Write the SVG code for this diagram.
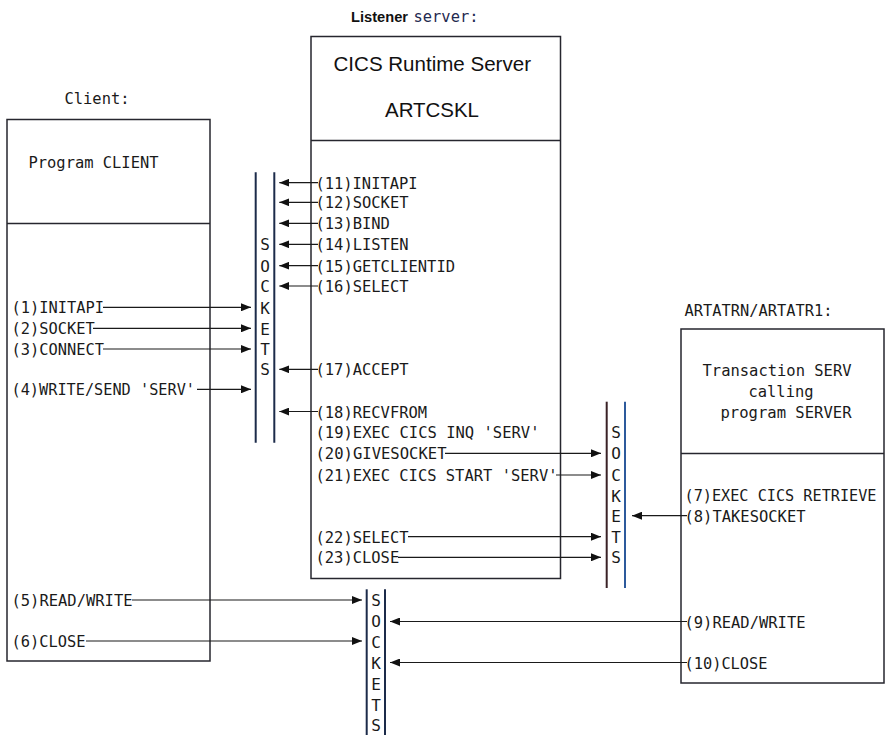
<svg xmlns="http://www.w3.org/2000/svg" width="886" height="735" viewBox="0 0 886 735">
<style>
.box{fill:#fff;stroke:#26262e;stroke-width:1.5}
.div{stroke:#26262e;stroke-width:1.5}
.m{font-family:"DejaVu Sans Mono","Liberation Mono",monospace;font-size:16px;fill:#1a1a1a}
.l{font-family:"DejaVu Sans Mono","Liberation Mono",monospace;font-size:16px;fill:#1a1a1a;text-anchor:middle}
.sock{stroke:#1c2b4a;stroke-width:2}
.c{stroke:#1a1a1a;stroke-width:1.2;fill:none;marker-end:url(#ah)}
.s{font-family:"Liberation Sans",Arial,sans-serif;font-size:21px;fill:#111}
</style>
<defs>
<marker id="ah" markerWidth="10" markerHeight="8" refX="10" refY="4" orient="auto" markerUnits="userSpaceOnUse"><path d="M0,0 L10,4 L0,8 z" fill="#111"/></marker>
</defs>
<rect width="886" height="735" fill="#fff"/>

<g id="title-listener">
<text x="351" y="22.3" font-family="'Liberation Sans',Arial,sans-serif" font-size="14.5" font-weight="bold" fill="#111" textLength="57" lengthAdjust="spacingAndGlyphs">Listener</text>
<text x="413.5" y="22.3" class="m" style="fill:#1f2a50" textLength="65" lengthAdjust="spacingAndGlyphs">server:</text>
</g>

<g id="client">
<text x="64.5" y="104.3" class="m" textLength="65" lengthAdjust="spacingAndGlyphs">Client:</text>
<rect class="box" x="7" y="119.5" width="203" height="541.5"/>
<line class="div" x1="7" y1="223.5" x2="210" y2="223.5"/>
<text x="28.5" y="167.5" class="m" textLength="130" lengthAdjust="spacingAndGlyphs">Program CLIENT</text>
<text x="11.5" y="313.3" class="m" textLength="92.5" lengthAdjust="spacingAndGlyphs">(1)INITAPI</text>
<text x="11.5" y="334.3" class="m" textLength="83.2" lengthAdjust="spacingAndGlyphs">(2)SOCKET</text>
<text x="11.5" y="355" class="m" textLength="92.5" lengthAdjust="spacingAndGlyphs">(3)CONNECT</text>
<text x="11.5" y="395.3" class="m" textLength="183.5" lengthAdjust="spacingAndGlyphs">(4)WRITE/SEND 'SERV'</text>
<text x="11.5" y="606" class="m" textLength="121" lengthAdjust="spacingAndGlyphs">(5)READ/WRITE</text>
<text x="11.5" y="647" class="m" textLength="74" lengthAdjust="spacingAndGlyphs">(6)CLOSE</text>
</g>

<g id="listener">
<rect class="box" x="311" y="36.5" width="249.5" height="542"/>
<line class="div" x1="311" y1="140.5" x2="560.5" y2="140.5"/>
<text x="333.5" y="71" class="s" textLength="197.5" lengthAdjust="spacingAndGlyphs">CICS Runtime Server</text>
<text x="385" y="117" class="s" textLength="94" lengthAdjust="spacingAndGlyphs">ARTCSKL</text>
<text x="315.5" y="188.7" class="m" textLength="102" lengthAdjust="spacingAndGlyphs">(11)INITAPI</text>
<text x="315.5" y="208.3" class="m" textLength="93" lengthAdjust="spacingAndGlyphs">(12)SOCKET</text>
<text x="315.5" y="229.3" class="m" textLength="74.4" lengthAdjust="spacingAndGlyphs">(13)BIND</text>
<text x="315.5" y="250.3" class="m" textLength="93" lengthAdjust="spacingAndGlyphs">(14)LISTEN</text>
<text x="315.5" y="271.7" class="m" textLength="139.5" lengthAdjust="spacingAndGlyphs">(15)GETCLIENTID</text>
<text x="315.5" y="292" class="m" textLength="93" lengthAdjust="spacingAndGlyphs">(16)SELECT</text>
<text x="315.5" y="375.3" class="m" textLength="93" lengthAdjust="spacingAndGlyphs">(17)ACCEPT</text>
<text x="315.5" y="417.5" class="m" textLength="111.6" lengthAdjust="spacingAndGlyphs">(18)RECVFROM</text>
<text x="315.5" y="438.3" class="m" textLength="224" lengthAdjust="spacingAndGlyphs">(19)EXEC CICS INQ 'SERV'</text>
<text x="315.5" y="459.3" class="m" textLength="131" lengthAdjust="spacingAndGlyphs">(20)GIVESOCKET</text>
<text x="315.5" y="481" class="m" textLength="242" lengthAdjust="spacingAndGlyphs">(21)EXEC CICS START 'SERV'</text>
<text x="315.5" y="542.7" class="m" textLength="93" lengthAdjust="spacingAndGlyphs">(22)SELECT</text>
<text x="315.5" y="563.3" class="m" textLength="83.7" lengthAdjust="spacingAndGlyphs">(23)CLOSE</text>
</g>

<g id="server">
<text x="684.5" y="316" class="m" textLength="148" lengthAdjust="spacingAndGlyphs">ARTATRN/ARTATR1:</text>
<rect class="box" x="681" y="329" width="203" height="354"/>
<line class="div" x1="681" y1="453.5" x2="884" y2="453.5"/>
<text x="702.5" y="376" class="m" textLength="149" lengthAdjust="spacingAndGlyphs">Transaction SERV</text>
<text x="748.5" y="396.7" class="m" textLength="65" lengthAdjust="spacingAndGlyphs">calling</text>
<text x="720.5" y="417.7" class="m" textLength="131" lengthAdjust="spacingAndGlyphs">program SERVER</text>
<text x="684.5" y="501" class="m" textLength="192" lengthAdjust="spacingAndGlyphs">(7)EXEC CICS RETRIEVE</text>
<text x="684.5" y="521.7" class="m" textLength="121" lengthAdjust="spacingAndGlyphs">(8)TAKESOCKET</text>
<text x="684.5" y="627.5" class="m" textLength="121" lengthAdjust="spacingAndGlyphs">(9)READ/WRITE</text>
<text x="684.5" y="668.5" class="m" textLength="83" lengthAdjust="spacingAndGlyphs">(10)CLOSE</text>
</g>

<g id="sockets-listener">
<line class="sock" x1="255.7" y1="172.3" x2="255.7" y2="442.7"/>
<line class="sock" x1="274.3" y1="172.3" x2="274.3" y2="442.7"/>
<text class="l" x="265" y="250.3">S</text>
<text class="l" x="265" y="271.7">O</text>
<text class="l" x="265" y="292">C</text>
<text class="l" x="265" y="314">K</text>
<text class="l" x="265" y="335">E</text>
<text class="l" x="265" y="355">T</text>
<text class="l" x="265" y="375">S</text>
</g>

<g id="sockets-server">
<line class="sock" x1="606.7" y1="401.7" x2="606.7" y2="588" style="stroke:#3a2226"/>
<line class="sock" x1="625" y1="401.7" x2="625" y2="588" style="stroke:#2d5a9c"/>
<text class="l" x="616" y="438">S</text>
<text class="l" x="616" y="459">O</text>
<text class="l" x="616" y="481">C</text>
<text class="l" x="616" y="502">K</text>
<text class="l" x="616" y="522">E</text>
<text class="l" x="616" y="543">T</text>
<text class="l" x="616" y="563">S</text>
</g>

<g id="sockets-data">
<line class="sock" x1="366.7" y1="589.3" x2="366.7" y2="735"/>
<line class="sock" x1="385" y1="589.3" x2="385" y2="735"/>
<text class="l" x="376" y="606">S</text>
<text class="l" x="376" y="627">O</text>
<text class="l" x="376" y="648">C</text>
<text class="l" x="376" y="669">K</text>
<text class="l" x="376" y="690">E</text>
<text class="l" x="376" y="711">T</text>
<text class="l" x="376" y="731">S</text>
</g>

<g id="connectors">
<line class="c" x1="103" y1="307.3" x2="251" y2="307.3"/>
<line class="c" x1="93" y1="328.3" x2="251" y2="328.3"/>
<line class="c" x1="103" y1="349" x2="251" y2="349"/>
<line class="c" x1="197" y1="389.3" x2="251" y2="389.3"/>
<line class="c" x1="132" y1="600" x2="362" y2="600"/>
<line class="c" x1="86" y1="641" x2="362" y2="641"/>
<line class="c" x1="318" y1="182.7" x2="279.3" y2="182.7"/>
<line class="c" x1="318" y1="202.3" x2="279.3" y2="202.3"/>
<line class="c" x1="318" y1="223.3" x2="279.3" y2="223.3"/>
<line class="c" x1="318" y1="244.3" x2="279.3" y2="244.3"/>
<line class="c" x1="318" y1="265.7" x2="279.3" y2="265.7"/>
<line class="c" x1="318" y1="286" x2="279.3" y2="286"/>
<line class="c" x1="318" y1="369.3" x2="279.3" y2="369.3"/>
<line class="c" x1="318" y1="411.5" x2="279.3" y2="411.5"/>
<line class="c" x1="445" y1="453.3" x2="601" y2="453.3"/>
<line class="c" x1="556" y1="475" x2="601" y2="475"/>
<line class="c" x1="408" y1="536.7" x2="601" y2="536.7"/>
<line class="c" x1="398" y1="557.3" x2="601" y2="557.3"/>
<line class="c" x1="687" y1="515.7" x2="632" y2="515.7"/>
<line class="c" x1="687" y1="621.5" x2="390" y2="621.5"/>
<line class="c" x1="687" y1="662.5" x2="390" y2="662.5"/>
</g>
</svg>
